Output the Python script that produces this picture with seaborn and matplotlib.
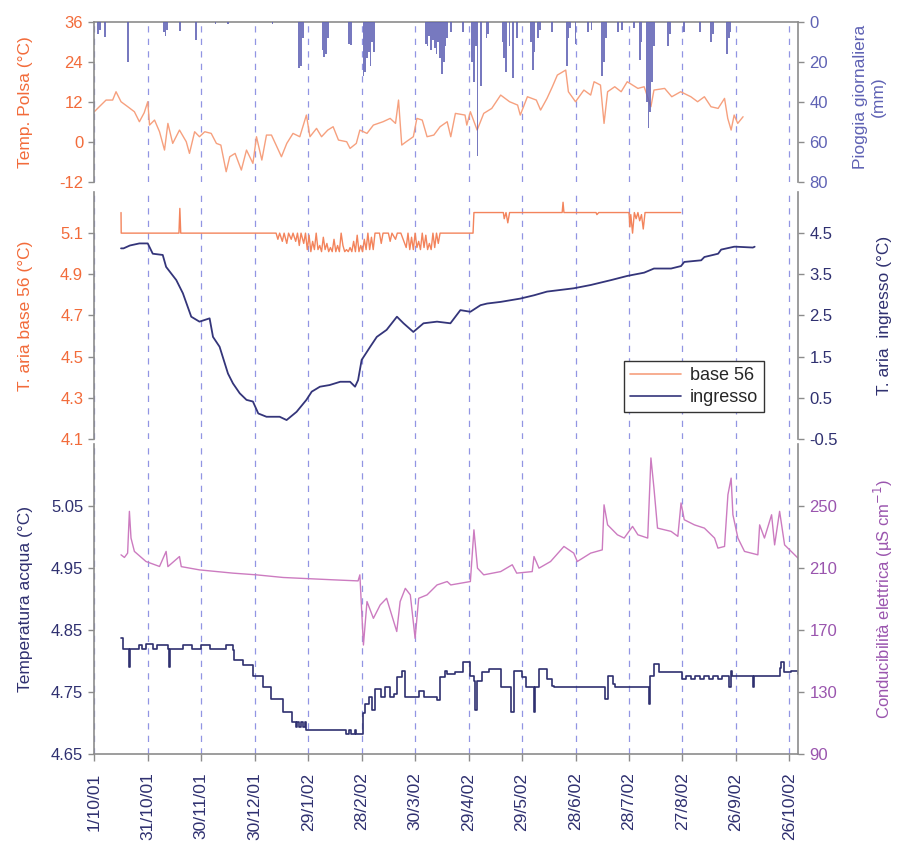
import numpy as np
import pandas as pd
import matplotlib
matplotlib.use("Agg")
import matplotlib.pyplot as plt
import seaborn as sns
from matplotlib.lines import Line2D

# ---------------- data (days since 1/10/2001) ----------------
START = pd.Timestamp("2001-10-01")
tick_days = [0, 30, 60, 90, 120, 150, 180, 210, 240, 270, 300, 330, 360, 390]
tick_labels = ["1/10/01", "31/10/01", "30/11/01", "30/12/01", "29/1/02", "28/2/02",
               "30/3/02", "29/4/02", "29/5/02", "28/6/02", "28/7/02", "27/8/02",
               "26/9/02", "26/10/02"]

# Temp. Polsa (°C)
polsa_day = [0, 2.8, 6.6, 10.3, 12.2, 15, 18.8, 22.5, 25.3, 28, 30, 31, 33.8, 36.6, 39.4,
             41.3, 44, 47.8, 51.6, 53.4, 56.3, 59, 62, 65.6, 68.5, 71, 74, 76, 79, 82.5,
             85.4, 89, 91, 94, 96.6, 99.4, 102, 105, 108, 111.5, 115.3, 119, 121, 124.7, 127.5,
             131, 134, 137, 141.6, 143.5, 147, 149, 153, 156.6, 162, 166, 169, 170.7, 172.5, 175,
             179, 181, 184, 186.7, 190.5, 194, 198, 200, 202.6, 208, 209, 211, 214.8, 218.5, 223,
             228, 233, 237.5, 239, 243, 248, 250.4, 254, 257, 259.8, 264.5, 266, 270, 274.7, 278.5,
             280.4, 284, 286, 288, 292, 295.6, 299, 305, 308.5, 312.3, 314, 320, 324, 329, 334.7,
             338.5, 342.3, 346, 350, 353.6, 355.4, 357.3, 359, 361, 364]
polsa_val = [9, 10.5, 12.5, 12.5, 15, 12, 10.5, 9, 6, 8.7, 12, 5, 6.5, 3, -2.5,
             5.5, -0.5, 3.5, 0, -3.5, 3, 1.5, 3, 2.5, -0.5, -1, -9, -4.5, -3.5, -8.5,
             -2.5, -6.5, 1.5, -5.5, 2, 2, -1, -4.5, -0.5, 2.5, 1.5, 8, 1.5, 4, 1.5,
             3.5, 4.5, 0.5, 0, -2, -0.5, 3.5, 2.5, 5, 6, 7, 5.5, 12.5, -1, 0,
             1.5, 7, 6.5, 1.5, 2, 4.5, 6, 1.5, 8.5, 8, 5, 9, 3.5, 8.5, 10,
             14, 12, 11, 8, 13.5, 12.5, 9.5, 13, 16.5, 20, 21.5, 15, 12, 15.5, 14,
             18, 17, 5.5, 15, 16.5, 15, 18, 16, 16.5, 10.5, 15.5, 16, 13.5, 15, 13.5,
             12, 13.5, 10.5, 10, 13, 7, 3.5, 8, 5.5, 7.5]

# Pioggia giornaliera (mm)
rain_day = [2, 3, 6, 19, 39, 40, 41, 48, 57, 68, 75, 100, 115, 116, 117, 128, 129, 130, 131, 143,
            144, 151, 152, 153, 154, 155, 156, 157, 186, 187, 188, 189, 190, 191, 192, 193, 194, 195,
            196, 197, 198, 200, 207, 212, 213, 214, 215, 217, 220, 221, 229, 230, 231, 233, 235, 237,
            245, 246, 247, 249, 250, 257, 265, 266, 267, 270, 277, 279, 285, 286, 287, 294, 296, 303,
            306, 307, 310, 311, 312, 313, 314, 322, 323, 331, 340, 346, 347, 355, 356, 357]
rain_mm = [6, 4, 7.5, 20, 5, 7, 4, 4.5, 9, 1, 1, 1, 23, 22, 8, 14, 17.5, 16, 8, 11,
           11.5, 27, 25, 18, 15, 22, 10, 15, 11, 12, 7, 14, 9, 13, 16, 10, 18, 26,
           20, 12, 8, 5, 5, 20, 30, 12, 67, 32, 8, 6, 10, 18, 25, 12, 28, 8,
           10, 24, 15, 8, 4, 5, 22, 8, 3, 11, 5, 4, 27, 20, 8, 5, 4, 3,
           19, 10, 40, 53, 45, 30, 12, 12, 6, 5, 5, 10, 6, 16, 8, 5]

# T. aria base 56 (°C)
b56_day = [15, 15.1, 47.5, 48, 48.5, 102, 103, 104, 105.5, 106.5, 108, 109, 110.5, 111.5, 113, 114, 115, 116, 117.5, 118.5,
           119.5, 120.5, 121.5, 122.5, 123.5, 124.5, 125.5, 126.5, 127.5, 128.5, 129.5, 130.5, 131.5, 132.5,
           133.5, 134.5, 135.5, 136.5, 137.5, 138.5, 139.5, 140.5, 141.5, 142.5, 143.5, 144.5, 145.5, 146.5,
           147.5, 148.5, 149.5, 150.5, 151.5, 152.5, 153.5, 154.5, 155.5, 156.5, 157.5,
           160, 161, 162, 165, 166, 167, 169, 170, 172,
           175, 176, 177, 178, 179, 180, 181, 182, 183, 184, 185, 186, 187, 188, 189, 190, 191, 192, 193, 194,
           212.5, 213, 229.5, 230, 231, 232, 233, 262.5, 263, 263.5, 281.5, 282, 283, 300, 300.5, 301, 302,
           303, 304, 305, 306, 307, 308, 309, 310, 329]
b56_val = [5.2, 5.1, 5.1, 5.22, 5.1, 5.1, 5.07, 5.1, 5.06, 5.1, 5.05, 5.1, 5.07, 5.1, 5.06, 5.1, 5.04, 5.1, 5.05, 5.1,
           5.02, 5.09, 5.01, 5.06, 5.02, 5.1, 5.02, 5.04, 5.01, 5.08, 5.02, 5.05, 5.01, 5.03,
           5.01, 5.07, 5.01, 5.04, 5.01, 5.1, 5.04, 5.01, 5.02, 5.01, 5.03, 5.01, 5.06, 5.01,
           5.09, 5.01, 5.04, 5.01, 5.07, 5.02, 5.1, 5.02, 5.08, 5.02, 5.1,
           5.1, 5.05, 5.1, 5.1, 5.06, 5.1, 5.07, 5.1, 5.1,
           5.03, 5.1, 5.02, 5.08, 5.02, 5.1, 5.03, 5.06, 5.02, 5.1, 5.03, 5.09, 5.02, 5.05, 5.02, 5.1, 5.03, 5.1, 5.05, 5.1,
           5.1, 5.2, 5.2, 5.17, 5.2, 5.15, 5.2, 5.2, 5.25, 5.2, 5.2, 5.19, 5.2, 5.2, 5.13, 5.19, 5.1,
           5.2, 5.17, 5.2, 5.16, 5.19, 5.12, 5.2, 5.2, 5.2]

# T. aria ingresso (°C)
ing_day = [15, 16.4, 20, 25.3, 30, 32.8, 38.4, 40.3, 46, 49.7, 54.4, 59, 64.7, 66.6, 70.3,
           75, 77.8, 81.6, 85.4, 89, 92, 96.6, 104, 107.9, 113.5, 119, 122, 126.6, 132, 138,
           143.5, 146.3, 148, 150, 154.8, 158.5, 164, 169.8, 173.5, 179, 184.7, 192.3, 199.8, 205.4, 211,
           216.7, 220.4, 228, 239, 246.7, 254, 269, 278.5, 290, 299, 308.5, 314, 323.6, 329.2, 331,
           340.5, 342.3, 350, 351.7, 359, 360, 369.5, 370.5]
ing_val = [4.13, 4.13, 4.2, 4.25, 4.25, 4.0, 3.97, 3.68, 3.36, 3.04, 2.47, 2.35, 2.43, 1.98, 1.74,
           1.09, 0.85, 0.61, 0.45, 0.41, 0.12, 0.04, 0.04, -0.04, 0.16, 0.45, 0.65, 0.77, 0.81, 0.89,
           0.89, 0.77, 0.93, 1.42, 1.74, 1.98, 2.15, 2.47, 2.31, 2.1, 2.31, 2.35, 2.31, 2.63, 2.59,
           2.75, 2.79, 2.83, 2.91, 2.99, 3.08, 3.16, 3.24, 3.36, 3.46, 3.54, 3.64, 3.64, 3.7, 3.8,
           3.84, 3.92, 4.0, 4.1, 4.17, 4.17, 4.15, 4.17]

# Temperatura acqua (°C)
acq_day = [15, 16, 19.2, 19.7, 20.2, 25, 27, 29, 33, 35, 41.3, 41.8, 42.3, 50, 55, 60, 65, 74,
           77.8, 78.5, 83.5, 89, 94.7, 99.4, 106, 110.7, 113, 114, 115, 116, 117, 118, 119,
           140.7, 141.5, 143, 144, 146, 147, 149, 151, 152, 154, 156, 157.6, 161, 163, 166, 168,
           169.7, 172.5, 174.5, 180, 182, 185, 192, 194, 197, 198, 202.6, 207, 211, 213, 213.8,
           214.5, 217.6, 221.3, 228, 233.5, 234, 235.4, 240, 242, 246.2, 246.7, 247.2, 249.5, 254,
           257, 258, 285, 286.8, 288, 291, 292, 310.5, 311.5, 312, 314, 317, 330, 332, 335, 337,
           340, 342, 345, 347, 350, 352, 355.4, 356, 357.3, 358, 369, 369.5, 370, 378, 385, 385.5,
           387, 391, 395]
acq_val = [4.837, 4.82, 4.82, 4.791, 4.82, 4.826, 4.82, 4.828, 4.82, 4.826, 4.82, 4.791, 4.82, 4.826, 4.82, 4.826, 4.82, 4.826,
           4.818, 4.802, 4.794, 4.777, 4.759, 4.74, 4.718, 4.702, 4.694, 4.702, 4.694, 4.702, 4.694, 4.702, 4.689,
           4.689, 4.683, 4.689, 4.683, 4.689, 4.683, 4.683, 4.716, 4.732, 4.742, 4.721, 4.756, 4.742, 4.759, 4.742, 4.748,
           4.775, 4.785, 4.742, 4.742, 4.752, 4.742, 4.737, 4.775, 4.785, 4.78, 4.783, 4.799, 4.777, 4.769, 4.721,
           4.769, 4.783, 4.788, 4.759, 4.759, 4.718, 4.785, 4.775, 4.759, 4.759, 4.718, 4.759, 4.788, 4.772,
           4.761, 4.759, 4.759, 4.74, 4.777, 4.764, 4.759, 4.759, 4.732, 4.777, 4.796, 4.783, 4.771, 4.777, 4.771, 4.777,
           4.771, 4.777, 4.771, 4.777, 4.771, 4.777, 4.777, 4.759, 4.785, 4.777, 4.777, 4.759, 4.777, 4.777, 4.79, 4.799,
           4.783, 4.785, 4.78]

# Conducibilità elettrica (µS/cm)
cond_day = [15, 16.9, 18.7, 19.7, 20.6, 22.5, 29, 36.6, 40.3, 41.3, 47.8, 48.8, 59, 77.8, 91,
            106, 134, 148, 149, 151, 153, 156.6, 160.4, 164, 169.7, 171.6, 174.5, 177.3, 180, 182,
            186.7, 192.3, 198, 200, 211, 213, 215, 218.5, 228, 234.5, 237, 245.7, 246.7, 249.5, 256,
            263.5, 269, 271, 278.5, 285, 286, 288, 293.5, 297.3, 302, 305, 310.5, 312.3, 314, 316,
            323.6, 327.4, 329.2, 331, 336.7, 342.3, 348, 349.9, 353.6, 355.5, 357.3, 358.3, 361.1, 364.8, 372.3,
            373.3, 376, 380, 381.7, 384.5, 387.3, 394.8]
cond_val = [218.6, 216.9, 219.7, 246.6, 229.4, 220.8, 214.3, 211.1, 220.8, 211, 217.5, 211, 208.9, 206.8, 205.7,
            204, 202.5, 201.8, 205.7, 160.5, 188.5, 177.7, 186.3, 190.6, 169.2, 188.5, 197, 192.8, 164.8, 190.6,
            192.8, 199.2, 201.4, 199.2, 201.4, 234.7, 210, 205.7, 207.8, 212.2, 206.8, 207.8, 217.5, 210, 214.3,
            224, 219.7, 214.3, 219.7, 221.8, 250.8, 237.9, 231.5, 229.4, 236.9, 231.5, 229.4, 281, 261.6, 235.8,
            233.7, 230.5, 252, 241.2, 237.9, 235.8, 229.4, 222.9, 224, 257.3, 268, 244.4, 229.4, 220.8, 218.6,
            237.9, 229.4, 244.4, 225, 246.6, 225, 216.5]


def to_dates(days):
    return START + pd.to_timedelta(np.asarray(days, dtype=float), unit="D")


# ---------------- style ----------------
sns.set_style("white")
plt.rcParams["font.family"] = ["Liberation Sans", "DejaVu Sans"]
plt.rcParams["axes.unicode_minus"] = False

ORANGE_TXT = "#F26B3A"
POLSA_COL = "#F6A07E"
BASE_COL = "#F3845C"
RAIN_COL = "#5F62B4"
NAVY = "#2F3070"
ING_COL = "#34357A"
COND_COL = "#CC7BC0"
COND_TXT = "#9A55AE"
GRID_COL = "#9195E3"
SPINE = "#8c8c8c"
TICK_FS = 12
LAB_FS = 12.5

fig = plt.figure(figsize=(8.98, 8.46), dpi=100)
L, W = 0.105, 0.784
ax1 = fig.add_axes([L, 0.7852, W, 0.1891])
ax2 = fig.add_axes([L, 0.4811, W, 0.2920], sharex=ax1)
ax3 = fig.add_axes([L, 0.1082, W, 0.3670], sharex=ax1)
ax1r, ax2r, ax3r = ax1.twinx(), ax2.twinx(), ax3.twinx()


def line(ax, days, vals, color, lw=1.0, **kw):
    sns.lineplot(x=to_dates(days), y=vals, ax=ax, color=color, linewidth=lw,
                 estimator=None, sort=False, errorbar=None, legend=False, **kw)


# top panel
line(ax1, polsa_day, polsa_val, POLSA_COL, 1.0)
ax1r.bar(to_dates(rain_day), rain_mm, width=1.0, color=RAIN_COL, linewidth=0, alpha=0.85)
ax1.set_ylim(-12, 36)
ax1.set_yticks([-12, 0, 12, 24, 36])
ax1r.set_ylim(80, 0)
ax1r.set_yticks([0, 20, 40, 60, 80])

# middle panel
line(ax2, b56_day, b56_val, BASE_COL, 1.0)
line(ax2r, ing_day, ing_val, ING_COL, 1.3)
ax2.set_ylim(4.1, 5.3)
ax2.set_yticks([4.1, 4.3, 4.5, 4.7, 4.9, 5.1])
ax2.set_yticklabels(["4.1", "4.3", "4.5", "4.7", "4.9", "5.1"])
ax2r.set_ylim(-0.5, 5.5)
ax2r.set_yticks([-0.5, 0.5, 1.5, 2.5, 3.5, 4.5])

# bottom panel
line(ax3, acq_day, acq_val, NAVY, 1.2, drawstyle="steps-post")
line(ax3r, cond_day, cond_val, COND_COL, 1.0)
ax3.set_ylim(4.65, 5.15)
ax3.set_yticks([4.65, 4.75, 4.85, 4.95, 5.05])
ax3.set_yticklabels(["4.65", "4.75", "4.85", "4.95", "5.05"])
ax3r.set_ylim(90, 290)
ax3r.set_yticks([90, 130, 170, 210, 250])

# x axis
ax3.set_xlim(to_dates([0])[0], to_dates([395])[0])
ax3.set_xticks(to_dates(tick_days))
ax3.set_xticklabels(tick_labels)

for ax, axr, lcol, rcol in [(ax1, ax1r, ORANGE_TXT, RAIN_COL),
                            (ax2, ax2r, ORANGE_TXT, NAVY),
                            (ax3, ax3r, NAVY, COND_TXT)]:
    for s in ["top", "bottom", "left", "right"]:
        ax.spines[s].set_visible(False)
        axr.spines[s].set_visible(False)
    ax.spines["left"].set_visible(True)
    axr.spines["right"].set_visible(True)
    for sp in list(ax.spines.values()) + list(axr.spines.values()):
        sp.set_color(SPINE)
        sp.set_linewidth(1.2)
    ax.grid(False)
    axr.grid(False)
    ax.grid(True, axis="x", color=GRID_COL, linestyle=(0, (5, 5)), linewidth=0.9)
    ax.tick_params(axis="y", direction="out", length=4.5, width=1, color=SPINE, pad=3.5,
                   labelsize=TICK_FS, labelcolor=lcol, left=True)
    axr.tick_params(axis="y", direction="out", length=4.5, width=1, color=SPINE, pad=3.5,
                    labelsize=TICK_FS, labelcolor=rcol, right=True)
    ax.set_xlabel("")

ax1.spines["top"].set_visible(True)
ax3.spines["bottom"].set_visible(True)
for ax in (ax1, ax2):
    ax.tick_params(axis="x", bottom=False, labelbottom=False)
ax3.tick_params(axis="x", direction="out", length=5, width=1, color=SPINE, pad=8,
                labelsize=12.5, labelcolor=NAVY, rotation=90, bottom=True)

# labels
ax1.set_ylabel("Temp. Polsa (°C)", color=ORANGE_TXT, fontsize=LAB_FS)
ax1r.set_ylabel("Pioggia giornaliera\n(mm)", color=RAIN_COL, fontsize=LAB_FS)
ax2.set_ylabel("T. aria base 56 (°C)", color=ORANGE_TXT, fontsize=LAB_FS)
ax2r.set_ylabel("T. aria  ingresso (°C)", color=NAVY, fontsize=LAB_FS)
ax3.set_ylabel("Temperatura acqua (°C)", color=NAVY, fontsize=LAB_FS)
ax3r.set_ylabel("Conducibilità elettrica (µS cm$^{-1}$)", color=COND_TXT, fontsize=12)
for ax in (ax1, ax2, ax3):
    ax.yaxis.set_label_coords(-0.087, 0.5)
ax1r.yaxis.set_label_coords(1.078, 0.53)
ax2r.yaxis.set_label_coords(1.112, 0.5)
ax3r.yaxis.set_label_coords(1.104, 0.5)

# legend
handles = [Line2D([], [], color=POLSA_COL, lw=1.2), Line2D([], [], color=ING_COL, lw=1.2)]
leg = ax2r.legend(handles, ["base 56", "ingresso"], loc="upper left",
                  bbox_to_anchor=(0.752, 0.315), frameon=True, fancybox=False,
                  edgecolor="#333333", framealpha=1, fontsize=13, handlelength=2.8,
                  borderpad=0.35, labelspacing=0.25, handletextpad=0.5, borderaxespad=0)
leg.get_frame().set_linewidth(1.0)

fig.savefig("out.png", dpi=100)
